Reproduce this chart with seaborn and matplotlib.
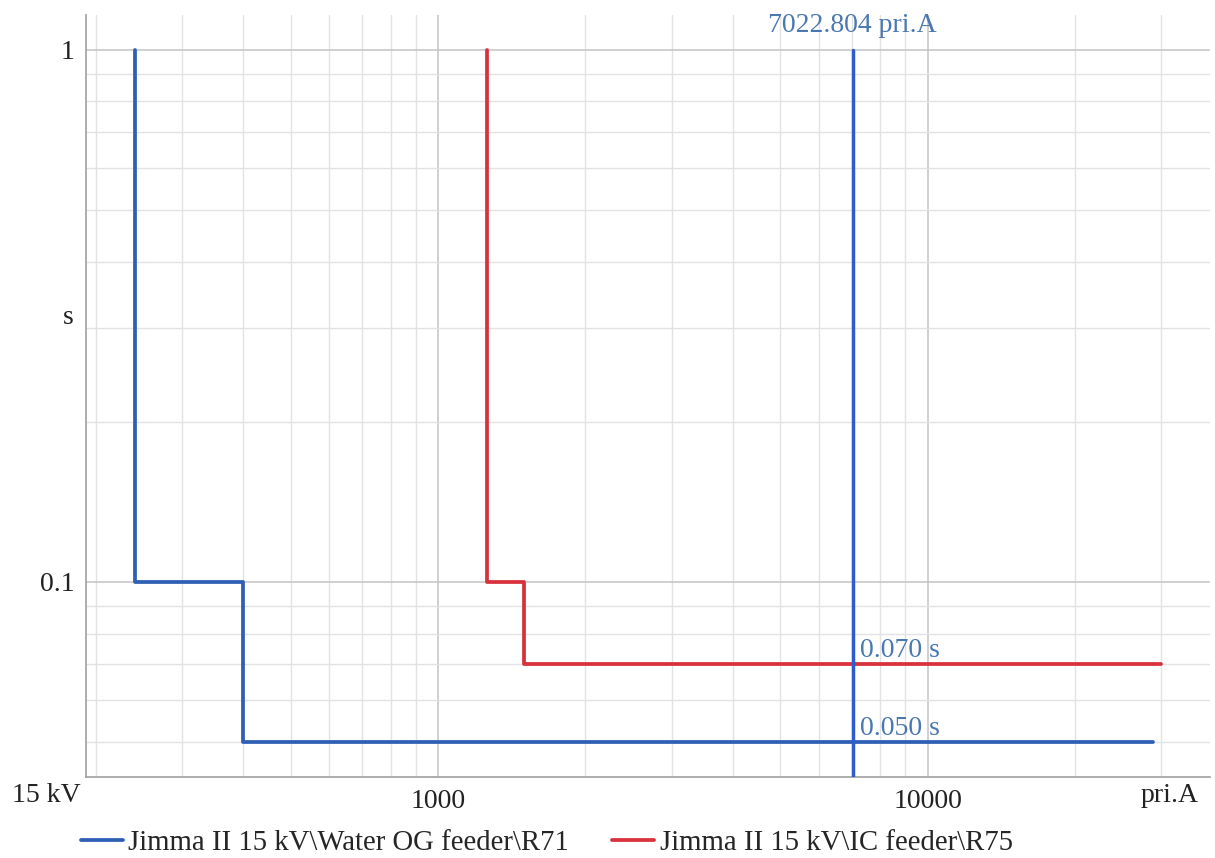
import matplotlib
matplotlib.use("Agg")
import matplotlib.pyplot as plt
import matplotlib.transforms as mtransforms
from matplotlib.ticker import LogLocator, FixedLocator, NullFormatter
import seaborn as sns
import pandas as pd

# Relay time-current characteristics (step curves)
water_current = [240, 240, 400, 400, 28800]
water_time = [1.0, 0.1, 0.1, 0.05, 0.05]
ic_current = [1260, 1260, 1500, 1500, 30000]
ic_time = [1.0, 0.1, 0.1, 0.07, 0.07]

series_names = ["Jimma II 15 kV\\Water OG feeder\\R71", "Jimma II 15 kV\\IC feeder\\R75"]
fault_current = 7022.804
trip_times = [0.070, 0.050]
x_ticks = [1000, 10000]
x_tick_labels = ["1000", "10000"]
y_ticks = [0.1, 1]
y_tick_labels = ["0.1", "1"]

colors = ["#2f5fb5", "#d8313b"]
label_color = "#4a78b0"
text_color = "#222222"

curves = [
    pd.DataFrame({"current": water_current, "time": water_time}),
    pd.DataFrame({"current": ic_current, "time": ic_time}),
]

sns.set_theme(style="white")
plt.rcParams["font.family"] = ["Liberation Serif", "DejaVu Serif"]

fig = plt.figure(figsize=(12.15, 8.58), dpi=100)
ax = fig.add_axes([86 / 1215, 1 - 777 / 858, (1210 - 86) / 1215, (777 - 15) / 858])

ax.set_xscale("log")
ax.set_yscale("log")
x_min, x_max = 191, 37700
y_min, y_max = 0.0430, 1.163

# step curves, points connected in their given order
for name, col, curve in zip(series_names, colors, curves):
    sns.lineplot(data=curve, x="current", y="time", sort=False, estimator=None,
                 color=col, linewidth=2.7, ax=ax, label=name)

# fault current marker
ax.plot([fault_current, fault_current], [1.0, y_min], color="#2d5ccc", linewidth=2.5, zorder=3)

ax.set_xlim(x_min, x_max)
ax.set_ylim(y_min, y_max)
ax.set_xlabel("")
ax.set_ylabel("")

# grid
ax.xaxis.set_major_locator(FixedLocator(x_ticks))
ax.yaxis.set_major_locator(FixedLocator(y_ticks))
ax.xaxis.set_minor_locator(LogLocator(base=10, subs=range(2, 10)))
ax.yaxis.set_minor_locator(LogLocator(base=10, subs=range(2, 10)))
ax.xaxis.set_minor_formatter(NullFormatter())
ax.yaxis.set_minor_formatter(NullFormatter())
ax.set_xticklabels(x_tick_labels)
ax.set_yticklabels(y_tick_labels)
ax.grid(which="major", color="#c4c4c4", linewidth=1.1)
ax.grid(which="minor", color="#e2e2e2", linewidth=1.0)
ax.set_axisbelow(True)
ax.tick_params(which="both", length=0, labelsize=20, colors=text_color)
ax.tick_params(axis="x", pad=9)
ax.tick_params(axis="y", pad=8)

for side in ["top", "right"]:
    ax.spines[side].set_visible(False)
for side in ["left", "bottom"]:
    ax.spines[side].set_color("#a0a0a0")
    ax.spines[side].set_linewidth(1.2)

trans = mtransforms.blended_transform_factory(ax.transData, fig.transFigure)
ax.text(fault_current, 1 - 26 / 858, f"{fault_current:.3f} pri.A", transform=trans,
        ha="center", va="center", fontsize=20, color=label_color)
for t in trip_times:
    ax.annotate(f"{t:.3f} s", xy=(fault_current, t), xytext=(5, 5), textcoords="offset points",
                ha="left", va="baseline", fontsize=20, color=label_color)

# unit labels
fig.text(12 / 1215, 1 - 796 / 858, "15 kV", ha="left", va="center", fontsize=20, color=text_color)
fig.text(1170 / 1215, 1 - 796 / 858, "pri.A", ha="center", va="center", fontsize=20, color=text_color)
fig.text(68 / 1215, 1 - 318 / 858, "s", ha="center", va="center", fontsize=20, color=text_color)

handles, labels = ax.get_legend_handles_labels()
ax.get_legend().remove()
fig.legend(handles, labels, loc="center left", bbox_to_anchor=(81 / 1215, 1 - 843 / 858),
           ncol=2, frameon=False, fontsize=20.7, handlelength=1.45, handletextpad=0.2,
           columnspacing=1.5, borderaxespad=0, borderpad=0)

fig.savefig("out.png", dpi=100)
